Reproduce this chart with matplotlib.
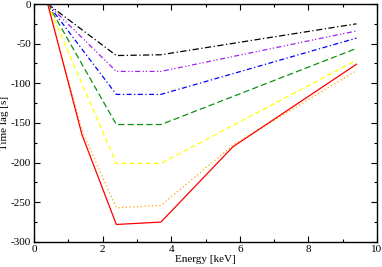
import numpy as np
import matplotlib
matplotlib.use("Agg")
import matplotlib.pyplot as plt
from matplotlib.ticker import MultipleLocator

plt.rcParams['font.family'] = ['Liberation Serif', 'DejaVu Serif']
plt.rcParams['axes.unicode_minus'] = False

# energies (keV) where the curves bend
x_full = [0.4, 1.4, 2.4, 3.7, 5.8, 9.4]
x_short = [0.4, 2.4, 3.7, 9.4]

lag_black = [0, -65, -64, -25]
lag_purple = [0, -85, -85, -34]
lag_blue = [0, -114, -114, -43]
lag_green = [0, -152, -152, -56]
lag_yellow = [0, -201, -201, -71]
lag_orange = [0, -160, -257, -254, -178, -84]
lag_red = [0, -165, -278, -275, -180, -76]

fig = plt.figure(figsize=(3.82, 2.67), dpi=100)
ax = fig.add_axes([0.089, 0.094, 0.898, 0.891])

lw = 0.9
ax.plot(x_short, lag_black, color='black', lw=lw, dashes=(5, 2, 1, 2))
ax.plot(x_short, lag_purple, color='#a020f0', lw=lw, dashes=(4, 2, 1, 1.5, 1, 2))
ax.plot(x_short, lag_blue, color='blue', lw=lw, dashes=(4, 2, 1, 2))
ax.plot(x_short, lag_green, color='#109010', lw=lw, dashes=(5, 2.5))
ax.plot(x_short, lag_yellow, color='#ffff00', lw=lw, dashes=(4, 2.5))
ax.plot(x_full, lag_orange, color='#ffa500', lw=lw, dashes=(1, 2))
ax.plot(x_full, lag_red, color='red', lw=lw)

ax.set_xlim(0, 10)
ax.set_ylim(-300, 0)
ax.xaxis.set_major_locator(MultipleLocator(2))
ax.xaxis.set_minor_locator(MultipleLocator(1))
ax.yaxis.set_major_locator(MultipleLocator(50))
ax.yaxis.set_minor_locator(MultipleLocator(25))
ax.tick_params(which='both', direction='in', top=True, right=True,
               labelsize=8, pad=2, width=0.8)
ax.tick_params(which='major', length=4)
ax.tick_params(which='minor', length=2)
for s in ax.spines.values():
    s.set_linewidth(1.0)

ax.set_xlabel('Energy [keV]', fontsize=8, labelpad=1)
ax.set_ylabel('Time lag [s]', fontsize=8, labelpad=1)

fig.savefig('out.png', dpi=100)
